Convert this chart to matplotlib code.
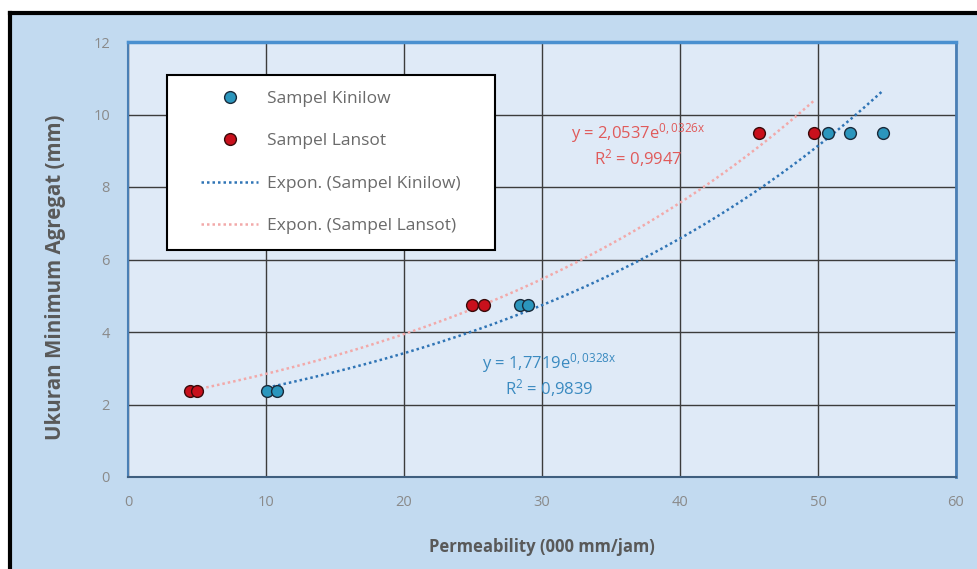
import numpy as np
import matplotlib
matplotlib.use("Agg")
import matplotlib.pyplot as plt
from matplotlib.patches import Rectangle
from matplotlib.lines import Line2D

plt.rcParams['font.family'] = ['Open Sans', 'DejaVu Sans']
plt.rcParams['mathtext.default'] = 'regular'

# ---------------- data ---------------- #
kinilow_x = [10.1, 10.8, 28.4, 29.0, 50.7, 52.3, 54.7]
kinilow_y = [2.36, 2.36, 4.75, 4.75, 9.5, 9.5, 9.5]
lansot_x = [4.5, 5.0, 24.9, 25.8, 45.7, 49.7]
lansot_y = [2.36, 2.36, 4.75, 4.75, 9.5, 9.5]

# trendline coefficients y = a * exp(b x)
kin_a, kin_b = 1.7719, 0.0328
lan_a, lan_b = 2.0537, 0.0326

x_ticks = [0, 10, 20, 30, 40, 50, 60]
y_ticks = [0, 2, 4, 6, 8, 10, 12]

# ---------------- colours ---------------- #
BG_OUT = '#c2daf0'
BG_IN = '#dfeaf7'
GRID = '#3c3c3c'
TXT = '#595959'
BLUE_PT = '#2b96bd'
RED_PT = '#c8101c'
BLUE_LN = '#2f74b5'
RED_LN = '#f2a9a9'

W, H = 977, 569
fig = plt.figure(figsize=(W / 100, H / 100), dpi=100)
fig.patch.set_facecolor('white')

# outer chart area with black top/left frame
fx0, fy1 = 10 / W, 1 - 13 / H
fig.add_artist(Rectangle((fx0, 0), 1 - fx0, fy1, transform=fig.transFigure,
                         facecolor=BG_OUT, edgecolor='none', zorder=0))
fig.add_artist(Line2D([fx0, 1], [fy1, fy1], transform=fig.transFigure,
                      color='black', lw=3, zorder=1))
fig.add_artist(Line2D([fx0, fx0], [0, fy1], transform=fig.transFigure,
                      color='black', lw=3, zorder=1))

ax = fig.add_axes([128 / W, 92 / H, (956 - 128) / W, (477 - 42) / H])
ax.set_facecolor(BG_IN)

ax.set_xlim(0, 60)
ax.set_ylim(0, 12)
ax.set_xticks(x_ticks)
ax.set_yticks(y_ticks)
ax.grid(True, color=GRID, lw=1)
ax.set_axisbelow(True)
ax.tick_params(length=0, labelsize=10.5, labelcolor='#8a8a8a', pad=13)

for side, col, w in [('left', '#4a7fb5', 1.5), ('bottom', '#3f5f7f', 1.5),
                     ('top', '#4a90d0', 2.5), ('right', '#4a7fb5', 2)]:
    ax.spines[side].set_color(col)
    ax.spines[side].set_linewidth(w)

# trendlines
xk = np.linspace(min(kinilow_x), max(kinilow_x), 200)
xl = np.linspace(min(lansot_x), max(lansot_x), 200)
ln_k, = ax.plot(xk, kin_a * np.exp(kin_b * xk), ls=(0, (1, 1.2)), color=BLUE_LN,
                lw=1.8, zorder=2, label='Expon. (Sampel Kinilow)')
ln_l, = ax.plot(xl, lan_a * np.exp(lan_b * xl), ls=(0, (1, 1.2)), color=RED_LN,
                lw=1.8, zorder=2, label='Expon. (Sampel Lansot)')

# points
sc_k, = ax.plot(kinilow_x, kinilow_y, 'o', ms=8.5, mfc=BLUE_PT, mec='#1a2a3a',
                mew=1, zorder=3, label='Sampel Kinilow')
sc_l, = ax.plot(lansot_x, lansot_y, 'o', ms=8.5, mfc=RED_PT, mec='#3a0a0a',
                mew=1, zorder=3, label='Sampel Lansot')

# equations
ax.text(37.0, 9.5, r'y = 2,0537e$^{0,0326x}$', color='#e05a5a', fontsize=12,
        ha='center', va='center')
ax.text(37.0, 8.8, r'R$^{2}$ = 0,9947', color='#e05a5a', fontsize=12,
        ha='center', va='center')
ax.text(30.5, 3.15, r'y = 1,7719e$^{0,0328x}$', color='#3a8ac0', fontsize=12,
        ha='center', va='center')
ax.text(30.5, 2.46, r'R$^{2}$ = 0,9839', color='#3a8ac0', fontsize=12,
        ha='center', va='center')

# legend box (frame drawn separately so the padding can differ per side)
lx0, lx1, ly0, ly1 = 167, 495, 75, 250
fig.add_artist(Rectangle((lx0 / W, 1 - ly1 / H), (lx1 - lx0) / W, (ly1 - ly0) / H,
                         transform=fig.transFigure, facecolor='white',
                         edgecolor='black', lw=1.5, zorder=4))
leg = fig.legend(handles=[sc_k, sc_l, ln_k, ln_l], loc='center',
                 bbox_to_anchor=((lx0 + lx1) / 2 / W, 1 - (ly0 + ly1) / 2 / H),
                 fontsize=12.5, frameon=False, labelspacing=1.5, borderpad=0,
                 handlelength=3.3, handletextpad=0.5, borderaxespad=0)
leg.set_zorder(5)
for t in leg.get_texts():
    t.set_color('#6a6a6a')

ax.set_xlabel('Permeability (000 mm/jam)', fontsize=12, fontweight='bold',
              color=TXT, labelpad=20)
ax.set_ylabel('Ukuran Minimum Agregat (mm)', fontsize=14.8, fontweight='bold',
              color=TXT)
ax.yaxis.set_label_coords(-0.075, 0.46)

fig.savefig('out.png', dpi=100)
